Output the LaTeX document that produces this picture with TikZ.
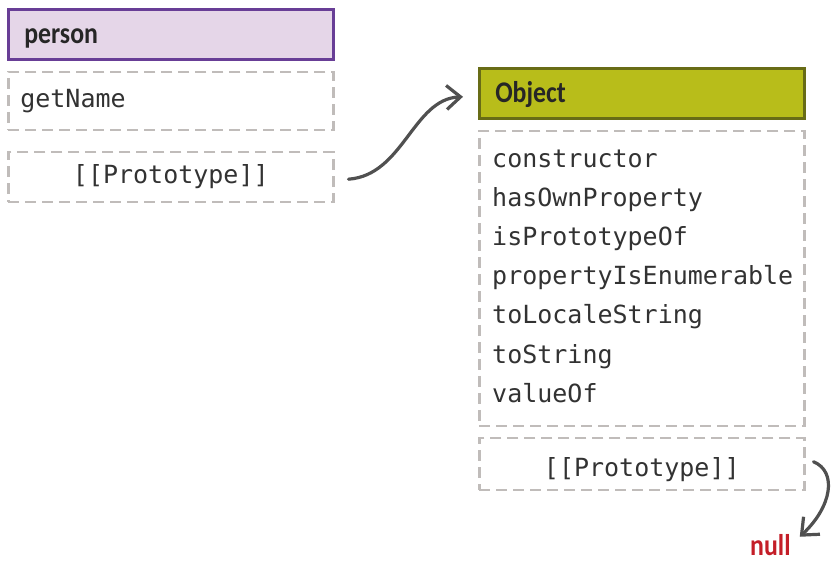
\documentclass[tikz,border=0pt]{standalone}
\usepackage{fontspec}
\setmonofont{DejaVu Sans Mono}
\newfontfamily\headfont[FakeStretch=0.86]{Carlito}
\usepackage{tikz}
\usetikzlibrary{positioning,arrows.meta}
\definecolor{personfill}{RGB}{229,214,232}
\definecolor{persondraw}{RGB}{104,62,150}
\definecolor{objfill}{RGB}{184,189,26}
\definecolor{objdraw}{RGB}{104,108,22}
\definecolor{dashgray}{RGB}{192,188,186}
\definecolor{linkgray}{RGB}{80,80,80}
\definecolor{nullred}{RGB}{196,30,40}
\definecolor{txtgray}{RGB}{50,50,50}

\begin{document}
\begin{tikzpicture}[x=1pt, y=-1pt,
  hdr/.style={draw, line width=2.6pt, minimum width=325pt, minimum height=50pt, inner xsep=16pt, text width=293pt, align=left,
    font=\headfont\bfseries\fontsize{30}{34}\selectfont, text height=24pt, text depth=6pt, text=black!85, anchor=north west},
  slot/.style={draw=dashgray, line width=2.4pt, dash pattern=on 11pt off 6pt, minimum width=325pt, inner xsep=12pt, text width=301pt,
    font=\ttfamily\fontsize{25}{30}\selectfont, text height=19pt, text depth=6pt, text=txtgray},
  member/.style={font=\ttfamily\fontsize{25}{30}\selectfont, text=txtgray, anchor=base west, inner sep=0pt},
  link/.style={draw=linkgray, line width=3.2pt, line cap=round, -{Straight Barb[length=14pt, width=24pt]}}]
\useasboundingbox (0,0) rectangle (832,563);
% person
\node[hdr, fill=personfill, draw=persondraw] (person) at (7,8) {person};
\node[slot, align=left, minimum height=58pt, below=10pt of person] (getname) {getName};
\node[slot, align=center, minimum height=50pt, below=20pt of getname] (pproto) {[[Prototype]]};
% Object
\node[hdr, fill=objfill, draw=objdraw] (object) at (478,67) {Object};
\node[slot, minimum height=295pt, below=10pt of object] (members) {};
\foreach \m [count=\i] in {constructor, hasOwnProperty, isPrototypeOf, propertyIsEnumerable, toLocaleString, toString, valueOf}
  \node[member] (m\i) at (492, 127.8+39.2*\i) {\m};
\node[slot, align=center, minimum height=52pt, text height=30pt, below=10pt of members] (oproto) {[[Prototype]]};
\node[font=\headfont\bfseries\fontsize{30}{34}\selectfont, text=nullred, anchor=base west, inner sep=0pt] (null) at (750,555) {null};
% links
\draw[link] ([xshift=14pt,yshift=-2pt]pproto.east) .. controls +(55,-4) and +(-50,2) .. ([xshift=-15pt,yshift=-3.5pt]object.west);
\draw[link] ([xshift=8pt,yshift=2.5pt]oproto.east) .. controls +(24,10) and +(32,-30) .. ([xshift=9pt,yshift=-3pt]null.north east);
\end{tikzpicture}
\end{document}
